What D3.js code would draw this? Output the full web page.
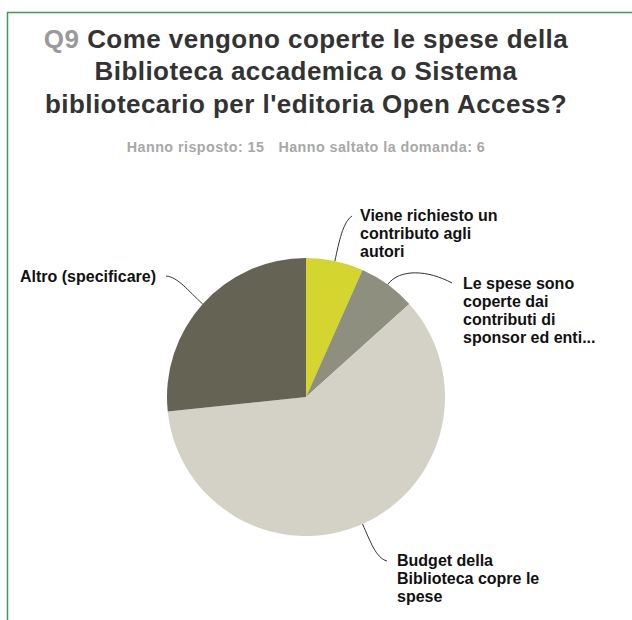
<!DOCTYPE html>
<html><head><meta charset="utf-8">
<script src="https://cdn.jsdelivr.net/npm/d3@7"></script>
<style>
html,body{margin:0;padding:0;background:#fff;}
svg{display:block;}
text{font-family:"Liberation Sans",Arial,sans-serif;}
</style></head>
<body>
<svg id="chart" width="632" height="620"></svg>
<script>
const questionNo = "Q9";
const titleLines = ["Come vengono coperte le spese della", "Biblioteca accademica o Sistema", "bibliotecario per l'editoria Open Access?"];
const subtitle = ["Hanno risposto: 15", "Hanno saltato la domanda: 6"];
const categories = ["Viene richiesto un contributo agli autori", "Le spese sono coperte dai contributi di sponsor ed enti...", "Budget della Biblioteca copre le spese", "Altro (specificare)"];
const labelLines = [["Viene richiesto un", "contributo agli", "autori"], ["Le spese sono", "coperte dai", "contributi di", "sponsor ed enti..."], ["Budget della", "Biblioteca copre le", "spese"], ["Altro (specificare)"]];
const values = [1, 1, 9, 4];
const colors = ["#d4d62f", "#8e8f7f", "#d4d2c6", "#656354"];

const svg = d3.select("#chart");
// frame
svg.append("path").attr("d", "M7.5,620 V12.5 H632").attr("fill", "none").attr("stroke", "#3c9b55").attr("stroke-width", 1.5);

// title
const tcx = 306, tfs = 26, tls = 0.45;
const t1 = svg.append("text").attr("x", tcx).attr("y", 48).attr("text-anchor", "middle").attr("font-size", tfs).attr("font-weight", "bold").attr("letter-spacing", tls).attr("fill", "#333");
t1.append("tspan").attr("fill", "#9a9a9a").text(questionNo + " ");
t1.append("tspan").text(titleLines[0]);
titleLines.slice(1).forEach((l, i) => {
  svg.append("text").attr("x", tcx).attr("y", 80 + i * 33).attr("text-anchor", "middle").attr("font-size", tfs).attr("font-weight", "bold").attr("letter-spacing", tls).attr("fill", "#333").text(l);
});
const st = svg.append("text").attr("x", tcx).attr("y", 152).attr("text-anchor", "middle").attr("font-size", 14.3).attr("font-weight", "bold").attr("letter-spacing", 0.45).attr("fill", "#a8a8a8");
st.append("tspan").text(subtitle[0]);
st.append("tspan").attr("dx", 14).text(subtitle[1]);

// pie
const cx = 306, cy = 397, R = 139;
const pie = d3.pie().sort(null).value(d => d)(values);
const arc = d3.arc().innerRadius(0).outerRadius(R);
const g = svg.append("g").attr("transform", `translate(${cx},${cy})`);
g.selectAll("path.slice").data(pie).enter().append("path").attr("class", "slice")
  .attr("d", arc).attr("fill", (d, i) => colors[i]);

// labels & leaders
const labelPos = [
  {x: 360, y: 221, ex: 352, ey: 216, c2: [343, 222]},
  {x: 463, y: 289, ex: 452, ey: 283, c2: [428, 270]},
  {x: 397, y: 566, ex: 387, ey: 561, c2: [376, 558]},
  {x: 20, y: 282, ex: 166, ey: 276, c2: [178, 277]}
];
pie.forEach((d, i) => {
  const a = (d.startAngle + d.endAngle) / 2;
  const sx = cx + R * Math.sin(a), sy = cy - R * Math.cos(a);
  const c1x = cx + (R + 20) * Math.sin(a), c1y = cy - (R + 20) * Math.cos(a);
  const L = labelPos[i];
  const p = d3.path();
  p.moveTo(sx, sy);
  p.bezierCurveTo(c1x, c1y, L.c2[0], L.c2[1], L.ex, L.ey);
  svg.append("path").attr("d", p.toString()).attr("fill", "none").attr("stroke", "#333").attr("stroke-width", 1);
  const t = svg.append("text").attr("font-size", 16).attr("font-weight", "bold").attr("fill", "#111");
  labelLines[i].forEach((l, j) => {
    t.append("tspan").attr("x", L.x).attr("y", L.y + j * 18).text(l);
  });
});
</script>
</body></html>
